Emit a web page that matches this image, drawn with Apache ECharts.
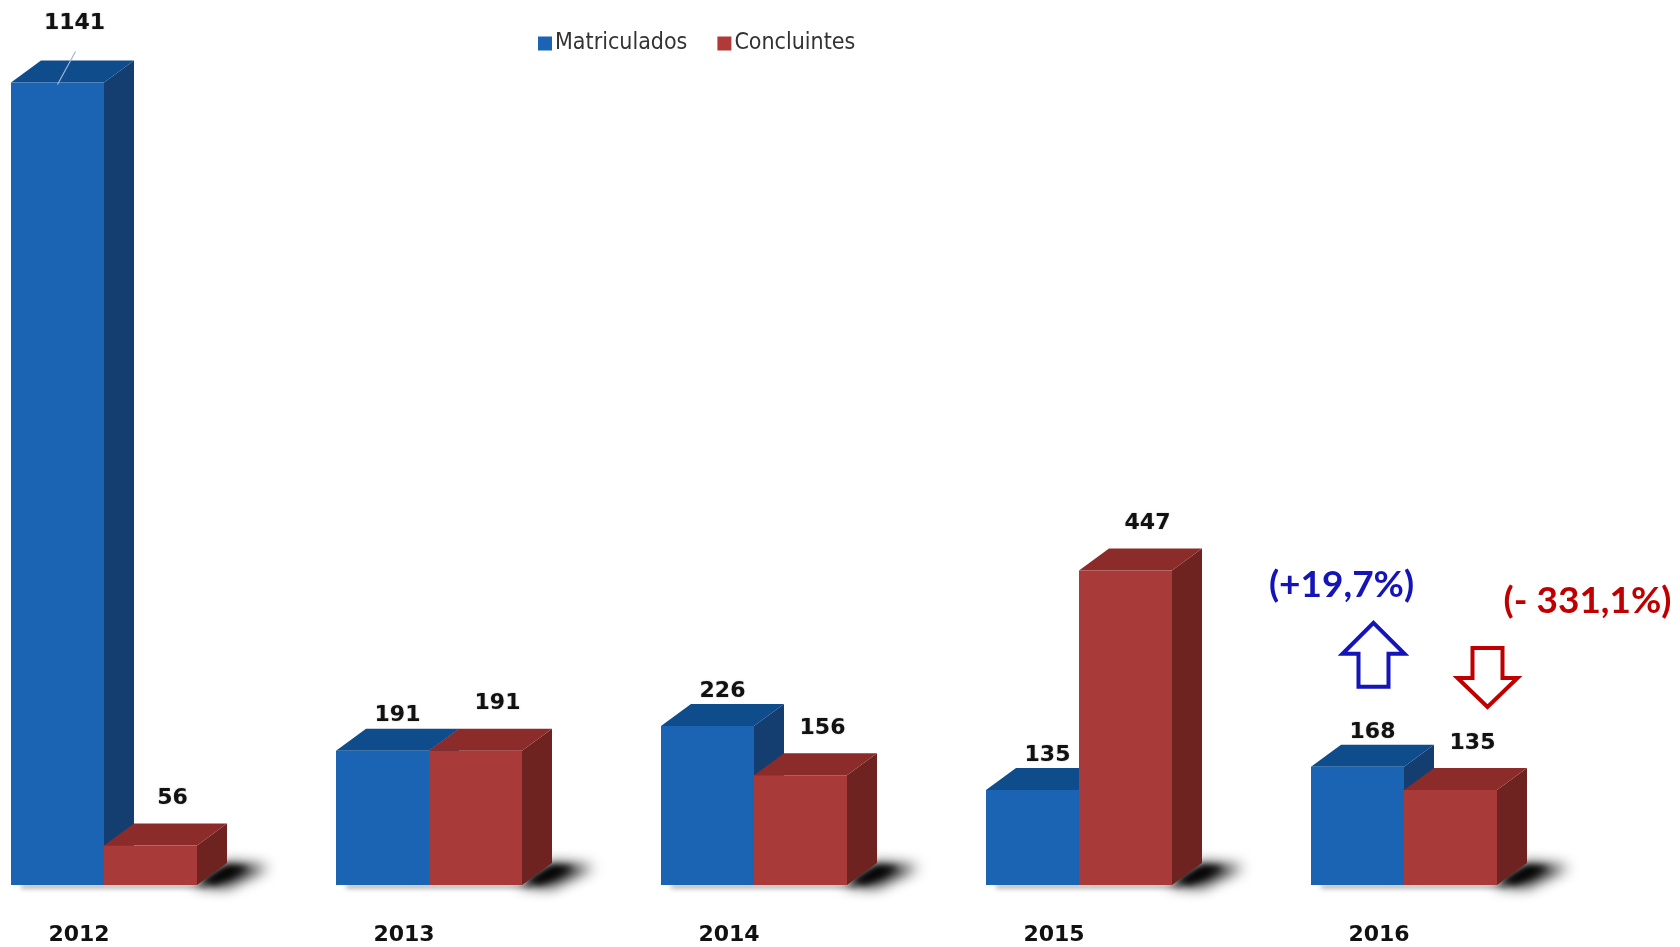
<!DOCTYPE html>
<html>
<head>
<meta charset="utf-8">
<script src="https://cdn.jsdelivr.net/npm/echarts@6/dist/echarts.min.js"></script>
<style>
html,body{margin:0;padding:0;background:#fff;}
#chart{width:1680px;height:947px;}
</style>
</head>
<body>
<div id="chart"></div>
<script>
var years = ['2012', '2013', '2014', '2015', '2016'];
var matriculados = [1141, 191, 226, 135, 168];
var concluintes = [56, 191, 156, 447, 135];
var seriesNames = ['Matriculados', 'Concluintes'];
var changeMatriculados = '(+19,7%)';
var changeConcluintes = '(- 331,1%)';

var BAR_W = 93, DX = 30, DY = 22, OFF = 4000;
var palette = {
  blue: { front: '#1A64B3', top: '#0F4C8C', side: '#143E70', legend: '#1A64B3' },
  red:  { front: '#A83A39', top: '#8B2B2A', side: '#6F2320', legend: '#B03A38' }
};
var maxVal = Math.max.apply(null, matriculados.concat(concluintes));

function makeRender(side, pal) {
  return function (params, api) {
    var i = api.value(0), v = api.value(1);
    var base = api.coord([i, 0]);
    var topP = api.coord([i, v]);
    var c = base[0], yb = base[1], yt = topP[1];
    var x0 = side === 0 ? c - BAR_W : c;
    var x1 = x0 + BAR_W;
    var children = [];
    // floor shadow (blurred, drawn off-canvas and cast back by shadow offset)
    if (side === 1) {
      children.push({
        type: 'polygon',
        shape: { points: [[x1 - 4 - OFF, yb], [x1 + DX - OFF, yb - DY], [x1 + DX + 42 - OFF, yb - DY + 4], [x1 + 30 - OFF, yb + 2]] },
        style: { fill: '#000', shadowBlur: 14, shadowColor: 'rgba(0,0,0,0.95)', shadowOffsetX: OFF, shadowOffsetY: 0 }
      });
      children.push({
        type: 'polygon',
        shape: { points: [[x1 - OFF, yb - 2], [x1 + DX - OFF, yb - DY + 2], [x1 + DX + 22 - OFF, yb - DY + 4], [x1 + 18 - OFF, yb]] },
        style: { fill: '#000', shadowBlur: 6, shadowColor: 'rgba(0,0,0,0.9)', shadowOffsetX: OFF, shadowOffsetY: 0 }
      });
    }
    // soft shade under the front base
    children.push({
      type: 'rect',
      shape: { x: x0 + 10 - OFF, y: yb, width: BAR_W, height: 3 },
      style: { fill: '#000', shadowBlur: 5, shadowColor: 'rgba(0,0,0,0.45)', shadowOffsetX: OFF, shadowOffsetY: 0 }
    });
    // side face
    children.push({
      type: 'polygon',
      shape: { points: [[x1, yt], [x1 + DX, yt - DY], [x1 + DX, yb - DY], [x1, yb]] },
      style: { fill: pal.side }
    });
    // top face
    children.push({
      type: 'polygon',
      shape: { points: [[x0, yt], [x0 + DX, yt - DY], [x1 + DX, yt - DY], [x1, yt]] },
      style: { fill: pal.top }
    });
    // front face
    children.push({
      type: 'rect',
      shape: { x: x0, y: yt, width: BAR_W, height: yb - yt },
      style: { fill: pal.front }
    });
    // value label
    var fc = (x0 + x1) / 2;
    var lx, ly;
    if (v === maxVal) {
      lx = fc + 17; ly = yt - DY - 37;
      children.push({
        type: 'line',
        shape: { x1: fc + 18, y1: ly + 28, x2: fc, y2: yt + 2 },
        style: { stroke: '#9DB8D6', lineWidth: 1.2 }
      });
    } else if (side === 0) {
      lx = fc + 15; ly = yt - DY - 13;
    } else {
      lx = fc + 22; ly = yt - DY - 25;
    }
    children.push({
      type: 'text',
      x: lx, y: ly,
      style: {
        text: String(v),
        fill: '#111',
        font: 'bold 22px "DejaVu Sans"',
        align: 'center', verticalAlign: 'middle',
        textShadowColor: 'rgba(0,0,0,0.25)', textShadowBlur: 2
      }
    });
    return { type: 'group', children: children };
  };
}

function toData(arr) { return arr.map(function (v, i) { return [i, v]; }); }

var chart = echarts.init(document.getElementById('chart'));
chart.setOption({
  backgroundColor: '#fff',
  animation: false,
  legend: {
    left: 533, top: 27,
    itemWidth: 14, itemHeight: 14, itemGap: 30,
    icon: 'rect',
    data: seriesNames,
    textStyle: { fontFamily: '"DejaVu Sans Condensed"', fontSize: 23, color: '#333', padding: [0, 0, 0, -2] }
  },
  grid: { left: 104, right: 276, top: 41, bottom: 62, containLabel: false },
  xAxis: {
    type: 'category', data: years, boundaryGap: false,
    axisLine: { show: false }, axisTick: { show: false }, splitLine: { show: false },
    axisLabel: {
      margin: 39, padding: [0, 50, 0, 0],
      fontFamily: '"DejaVu Sans"', fontWeight: 'bold', fontSize: 22, color: '#111'
    }
  },
  yAxis: { type: 'value', min: 0, max: 1200, show: false, splitLine: { show: false } },
  series: [
    { name: seriesNames[0], type: 'custom', renderItem: makeRender(0, palette.blue), data: toData(matriculados), itemStyle: { color: palette.blue.legend }, z: 2 },
    { name: seriesNames[1], type: 'custom', renderItem: makeRender(1, palette.red), data: toData(concluintes), itemStyle: { color: palette.red.legend }, z: 3 }
  ]
});

// annotations anchored to the 2016 bars
var last = years.length - 1;
var pB = chart.convertToPixel({ gridIndex: 0 }, [last, matriculados[last]]);
var pR = chart.convertToPixel({ gridIndex: 0 }, [last, concluintes[last]]);
var bfc = pB[0] - BAR_W / 2, rfc = pR[0] + BAR_W / 2;
var ax = bfc + 16, ay = pB[1];  // up arrow
var rx = rfc + 37, ry = pR[1];  // down arrow
var blueC = '#1414B8', redC = '#C00000';
chart.setOption({
  graphic: [
    { type: 'polygon', shape: { points: [[ax, ay - 144], [ax + 31, ay - 113], [ax + 15, ay - 113], [ax + 15, ay - 80], [ax - 15, ay - 80], [ax - 15, ay - 113], [ax - 31, ay - 113]] },
      style: { fill: '#fff', stroke: blueC, lineWidth: 4, lineJoin: 'miter' }, z: 10 },
    { type: 'text', x: bfc - 16, y: ay - 182, style: { text: changeMatriculados, fill: blueC, font: 'bold 37px Lato', align: 'center', verticalAlign: 'middle' }, z: 10 },
    { type: 'polygon', shape: { points: [[rx - 15, ry - 142], [rx + 15, ry - 142], [rx + 15, ry - 112], [rx + 30, ry - 112], [rx, ry - 83], [rx - 30, ry - 112], [rx - 15, ry - 112]] },
      style: { fill: '#fff', stroke: redC, lineWidth: 4, lineJoin: 'miter' }, z: 10 },
    { type: 'text', x: rfc + 137, y: ry - 189, style: { text: changeConcluintes, fill: redC, font: 'bold 37px Lato', align: 'center', verticalAlign: 'middle' }, z: 10 }
  ]
});
</script>
</body>
</html>
